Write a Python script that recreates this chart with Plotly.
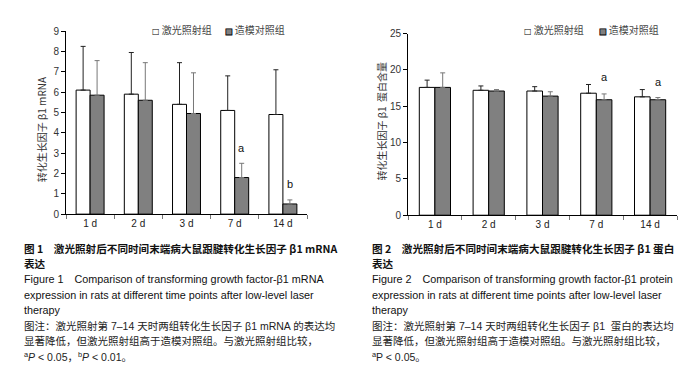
import plotly.graph_objects as go

W, H = 696, 378
OFF = 8  # page body margin the figure sits inside

categories = ["1 d", "2 d", "3 d", "7 d", "14 d"]
series_names = ["激光照射组", "造模对照组"]

mrna_laser = [6.1, 5.9, 5.4, 5.1, 4.9]
mrna_laser_err = [2.15, 2.05, 2.05, 1.7, 2.2]
mrna_model = [5.85, 5.6, 4.95, 1.8, 0.5]
mrna_model_err = [1.7, 1.85, 2.0, 0.7, 0.2]

prot_laser = [17.6, 17.2, 17.1, 16.8, 16.3]
prot_laser_err = [1.0, 0.6, 0.6, 1.2, 1.0]
prot_model = [17.6, 17.1, 16.4, 15.9, 15.9]
prot_model_err = [2.0, 0.2, 0.6, 0.8, 0.3]

mrna_marks = [("7 d", 3.27, "a"), ("14 d", 1.5, "b")]
prot_marks = [("7 d", 19.0, "a"), ("14 d", 18.3, "a")]

mrna_yticks = list(range(0, 10))
prot_yticks = [0, 5, 10, 15, 20, 25]

caption1 = [
    ("图 1　激光照射后不同时间末端病大鼠跟腱转化生长因子 β1 mRNA", "title"),
    ("表达", "title"),
    ("Figure 1　Comparison of transforming growth factor-β1 mRNA", "en"),
    ("expression in rats at different time points after low-level laser", "en"),
    ("therapy", "en"),
    ("图注：激光照射第 7–14 天时两组转化生长因子 β1 mRNA 的表达均", "note"),
    ("显著降低，但激光照射组高于造模对照组。与激光照射组比较，", "note"),
    ("<sup>a</sup><i>P</i> < 0.05，<sup>b</sup><i>P</i> < 0.01。", "note"),
]
caption2 = [
    ("图 2　激光照射后不同时间末端病大鼠跟腱转化生长因子 β1 蛋白", "title"),
    ("表达", "title"),
    ("Figure 2　Comparison of transforming growth factor-β1 protein", "en"),
    ("expression in rats at different time points after low-level laser", "en"),
    ("therapy", "en"),
    ("图注：激光照射第 7–14 天时两组转化生长因子 β1  蛋白的表达均", "note"),
    ("显著降低，但激光照射组高于造模对照组。与激光照射组比较，", "note"),
    ("<sup>a</sup>P < 0.05。", "note"),
]

LAT = "Liberation Sans, Arial, Noto Sans CJK SC"
CJK = "Noto Sans CJK SC, Liberation Sans"


def px(x):
    return (x - OFF) / W


def py(y):
    return 1 - (y - OFF) / H


fig = go.Figure()


def add_bars(xa, ya, laser, laser_err, model, model_err):
    fig.add_trace(go.Bar(
        x=categories, y=laser, name=series_names[0], xaxis=xa, yaxis=ya,
        marker=dict(color="white", line=dict(color="black", width=1)),
        error_y=dict(type="data", array=laser_err, arrayminus=[0] * len(laser),
                     symmetric=False, color="#222222", thickness=1, width=2.5),
        showlegend=False,
    ))
    fig.add_trace(go.Bar(
        x=categories, y=model, name=series_names[1], xaxis=xa, yaxis=ya,
        marker=dict(color="#808080", line=dict(color="black", width=1)),
        error_y=dict(type="data", array=model_err, arrayminus=[0] * len(model),
                     symmetric=False, color="#777777", thickness=1, width=2.5),
        showlegend=False,
    ))


add_bars("x", "y", mrna_laser, mrna_laser_err, mrna_model, mrna_model_err)
add_bars("x2", "y2", prot_laser, prot_laser_err, prot_model, prot_model_err)

xcommon = dict(showline=True, linecolor="black", linewidth=1, ticks="outside",
               tickson="boundaries", ticklen=4, tickcolor="#777777",
               showgrid=False, zeroline=False, fixedrange=True,
               tickfont=dict(family=LAT, size=10, color="#222222"))
ycommon = dict(showline=True, linecolor="black", linewidth=1, ticks="outside",
               ticklen=4, tickcolor="black", showgrid=False, zeroline=False,
               tickfont=dict(family=LAT, size=10, color="#333333"))

fig.update_layout(
    width=W, height=H, autosize=False,
    margin=dict(l=0, r=0, t=0, b=0),
    paper_bgcolor="white", plot_bgcolor="white",
    barmode="group", bargap=0.42, bargroupgap=0,
    showlegend=False,
    xaxis=dict(domain=[px(66), px(307)], anchor="y", **xcommon),
    yaxis=dict(domain=[py(214.7), py(25.7)], range=[0, 9], tickvals=mrna_yticks,
               anchor="x", **ycommon),
    xaxis2=dict(domain=[px(408), px(677)], anchor="y2", **xcommon),
    yaxis2=dict(domain=[py(215.8), py(28.3)], range=[0, 25], tickvals=prot_yticks,
                anchor="x2", **ycommon),
)

ann = []
for cat, yv, t in mrna_marks:
    ann.append(dict(x=cat, y=yv, xref="x", yref="y", text=t, showarrow=False,
                    xshift=7, xanchor="center", yanchor="middle",
                    font=dict(family=LAT, size=11, color="#111111")))
for cat, yv, t in prot_marks:
    ann.append(dict(x=cat, y=yv, xref="x2", yref="y2", text=t, showarrow=False,
                    xshift=8, xanchor="center", yanchor="middle",
                    font=dict(family=LAT, size=11, color="#111111")))

ann.append(dict(x=px(41), y=py(127), xref="paper", yref="paper",
                text="转化生长因子 β1 mRNA", textangle=-90, showarrow=False,
                xanchor="center", yanchor="middle",
                font=dict(family=CJK, size=10, color="#333333")))
ann.append(dict(x=px(381), y=py(119), xref="paper", yref="paper",
                text="转化生长因子 β1  蛋白含量", textangle=-90, showarrow=False,
                xanchor="center", yanchor="middle",
                font=dict(family=CJK, size=10, color="#333333")))

BOX_WHITE = "<span style='font-family:DejaVu Sans;font-size:8px;fill:black'>□</span>"
BOX_GRAY = ("<span style='font-family:DejaVu Sans;font-size:8px;fill:#808080;"
            "stroke:black;stroke-width:0.8px'>■</span>")


def legend(x1, x2, yc):
    for xx, box, name in ((x1, BOX_WHITE, series_names[0]), (x2, BOX_GRAY, series_names[1])):
        ann.append(dict(x=px(xx), y=py(yc), xref="paper", yref="paper",
                        text=box + "\u00a0" + name, showarrow=False,
                        xanchor="left", yanchor="middle",
                        font=dict(family=CJK, size=10, color="#444444")))


legend(149.5, 223.5, 24.3)
legend(522, 596.5, 24.5)


def caption(lines, x0):
    for i, (t, kind) in enumerate(lines):
        if kind == "title":
            f = dict(family=CJK, size=10.6, color="#111111", weight="bold")
        elif kind == "en":
            f = dict(family=LAT, size=10.8, color="#111111")
        else:
            f = dict(family="Liberation Sans, Noto Sans CJK SC", size=10.5, color="#222222")
        ann.append(dict(x=px(x0), y=py(250 + 16 * i), xref="paper", yref="paper",
                        text=t, showarrow=False, xanchor="left", yanchor="middle",
                        font=f))


caption(caption1, 22)
caption(caption2, 370)

fig.update_layout(annotations=ann)
fig.write_html("out.html")
